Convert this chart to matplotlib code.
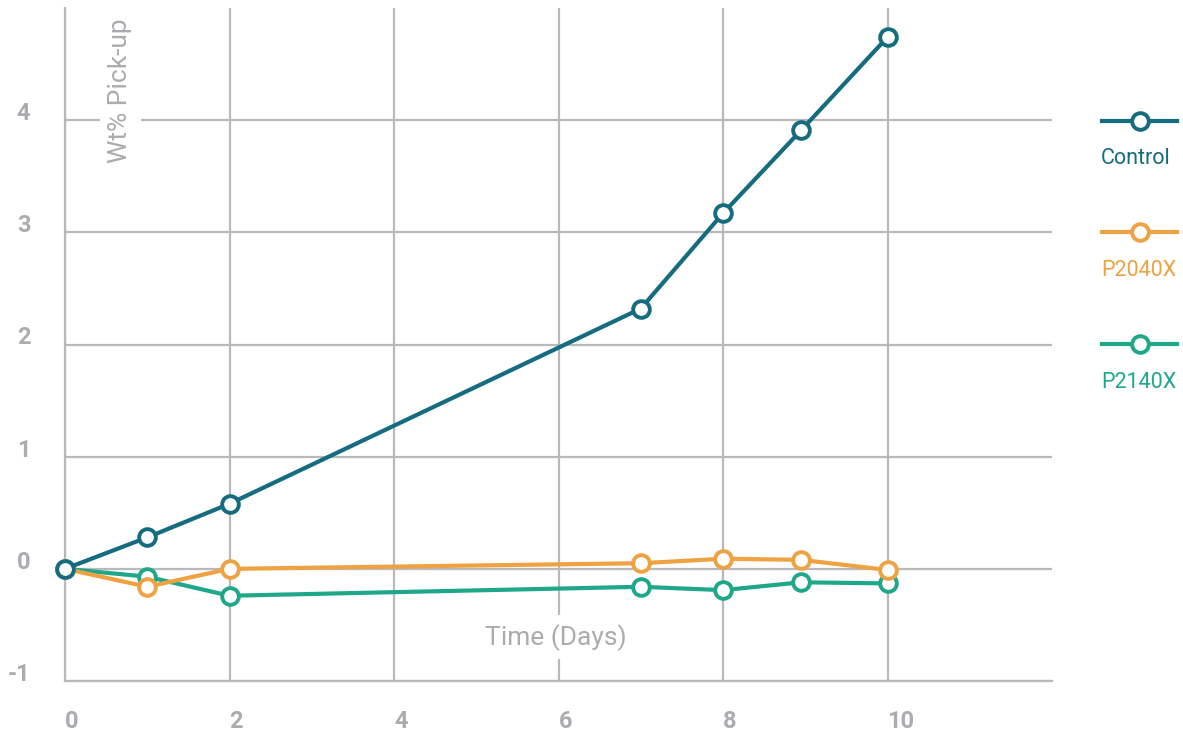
import matplotlib.pyplot as plt
from matplotlib.lines import Line2D

# Wt% pick-up over time
days = [0, 1, 2, 7, 8, 8.95, 10]
control = [0, 0.28, 0.58, 2.32, 3.17, 3.91, 4.74]
p2040x = [0, -0.16, 0.0, 0.05, 0.09, 0.08, -0.01]
p2140x = [0, -0.07, -0.24, -0.16, -0.19, -0.12, -0.13]

series_names = ['Control', 'P2040X', 'P2140X']
colors = ['#146c7e', '#eea242', '#1fa78a']

x_ticks = [0, 2, 4, 6, 8, 10]
y_ticks = [-1, 0, 1, 2, 3, 4]

grid_color = '#b9b9bd'
text_color = '#acacb0'

plt.rcParams['font.family'] = ['Roboto', 'DejaVu Sans']

fig = plt.figure(figsize=(11.83, 7.36), dpi=100)
ax = fig.add_axes([65 / 1183, 55 / 736, (1052 - 65) / 1183, (681 - 8) / 736])

ax.set_xlim(0, 12)
ax.set_ylim(-1, 5)
ax.set_xticks(x_ticks)
ax.set_yticks(y_ticks)
ax.set_xticklabels([str(t) for t in x_ticks], ha='left')
ax.set_yticklabels([str(t) for t in y_ticks], va='baseline')
ax.tick_params(length=0, labelsize=17, colors=text_color)
ax.tick_params(axis='x', pad=21)
ax.tick_params(axis='y', pad=25)
for lbl in ax.get_xticklabels() + ax.get_yticklabels():
    lbl.set_fontweight('bold')
    lbl.set_color(text_color)

ax.grid(True, color=grid_color, linewidth=1.6)
ax.set_axisbelow(True)
for side in ['top', 'right']:
    ax.spines[side].set_visible(False)
for side in ['left', 'bottom']:
    ax.spines[side].set_color(grid_color)
    ax.spines[side].set_linewidth(1.6)

all_series = [control, p2040x, p2140x]
# draw green first so orange and control sit on top
for idx in [2, 1, 0]:
    ax.plot(days, all_series[idx], color=colors[idx], linewidth=3,
            marker='o', markersize=12, markerfacecolor='white',
            markeredgecolor=colors[idx], markeredgewidth=2.8,
            zorder=3 + (2 - idx), clip_on=False)

box = dict(facecolor='white', edgecolor='none', pad=6)
ax.text(0.67, 4.26, 'Wt% Pick-up', rotation=90, ha='center', va='center',
        fontsize=19, color=text_color, bbox=box, zorder=2)
ax.text(5.97, -0.61, 'Time (Days)', ha='center', va='center',
        fontsize=19, color=text_color, bbox=box, zorder=2)

# legend on the right
leg_y = [121, 232, 344]
for name, col, py in zip(series_names, colors, leg_y):
    yf = 1 - py / 736
    fig.add_artist(Line2D([1102 / 1183, 1177 / 1183], [yf, yf], color=col,
                          linewidth=3, transform=fig.transFigure))
    fig.add_artist(Line2D([1140 / 1183], [yf], color=col, marker='o',
                          markersize=12, markerfacecolor='white',
                          markeredgewidth=2.8, transform=fig.transFigure))
    fig.text(1101 / 1183, 1 - (py + 38) / 736, name, ha='left', va='center',
             fontsize=15.5, color=col)

fig.savefig('out.png', dpi=100)
